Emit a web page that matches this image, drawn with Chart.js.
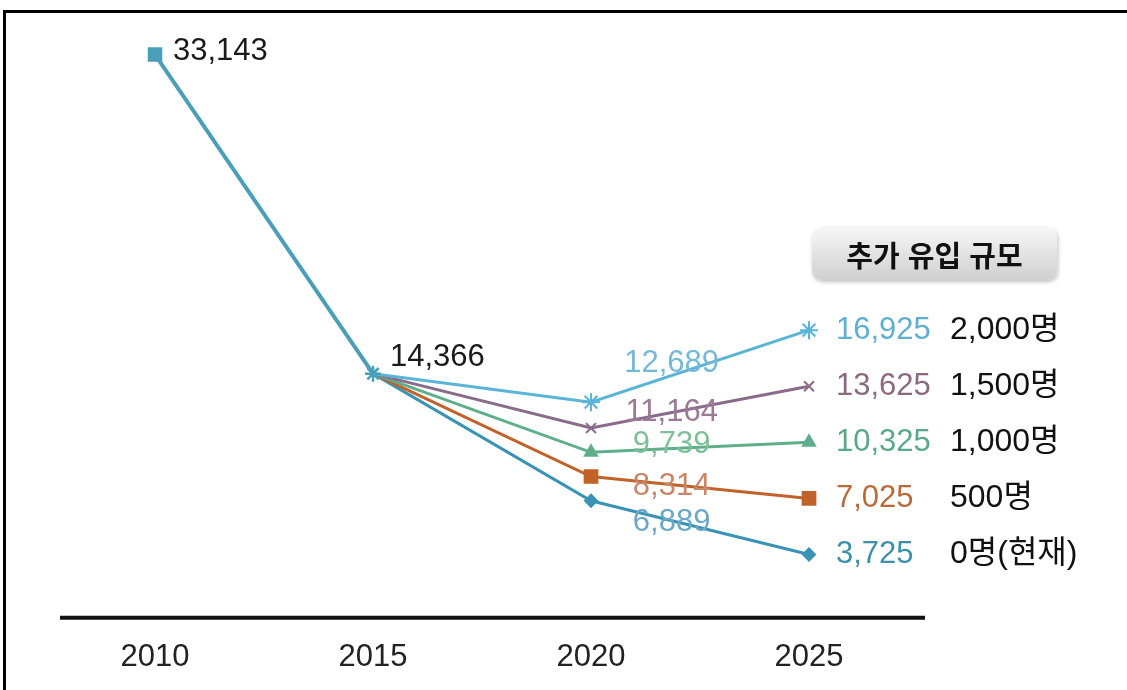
<!DOCTYPE html>
<html lang="ko">
<head>
<meta charset="utf-8">
<script src="https://cdn.jsdelivr.net/npm/chart.js@4.4.1/dist/chart.umd.min.js"></script>
<style>
  html, body { margin: 0; padding: 0; background: #fff; }
  #wrap { position: relative; width: 1127px; height: 690px; overflow: hidden; }
  #frame { position: absolute; left: 3px; top: 10px; right: 0; bottom: 0;
    border-top: 3px solid #000; border-left: 3px solid #000; }
  #chart { position: absolute; left: 0; top: 0; }
  #legendBox { position: absolute; left: 812px; top: 227px; width: 245px; height: 53px;
    border-radius: 10px; background: linear-gradient(#f7f7f7, #cfcfcf);
    box-shadow: 1px 2px 4px rgba(0,0,0,0.25);
    font: bold 29px 'Noto Sans CJK KR', sans-serif; color: #111;
    display: flex; align-items: center; justify-content: center; }
</style>
</head>
<body>
<div id="wrap">
  <div id="frame"></div>
  <canvas id="chart" width="1127" height="697"></canvas>
  <div id="legendBox">추가 유입 규모</div>
</div>
<script>
const years = ['2010', '2015', '2020', '2025'];
const scenarios = ['2,000명', '1,500명', '1,000명', '500명', '0명(현재)'];
const history = [33143, 14366];
const values2020 = [12689, 11164, 9739, 8314, 6889];
const values2025 = [16925, 13625, 10325, 7025, 3725];

// styling per scenario (same order as scenarios)
const lineColors = ['#5ab4d6', '#8b6b8a', '#5fae8a', '#c0622a', '#3a93b5'];
const midLabelColors = ['#74b9d6', '#9a7a94', '#7fbf98', '#c9876a', '#6aa8c8'];
const endLabelColors = ['#5fb0d0', '#8a6a7e', '#5aa888', '#b86a3a', '#3e90aa'];
const markers = ['star', 'crossRot', 'triangle', 'rect', 'rectRot'];
const markerSizes = [9, 7, 7, 9, 6];
const midLabelShift = [-12, 0, -4, 2, 2];

const FONT = "'Liberation Sans', Arial, 'Noto Sans CJK KR', sans-serif";
const fmt = v => v.toLocaleString('en-US');

const datasets = [{
  label: 'history',
  data: [history[0], history[1], null, null],
  borderColor: '#4a9fb8',
  backgroundColor: '#4a9fb8',
  borderWidth: 4,
  pointStyle: ['rect', 'star', 'rect', 'rect'],
  pointRadius: [8.5, 8, 0, 0],
  pointBorderWidth: 2.5,
  tension: 0
}];

scenarios.forEach((name, i) => {
  datasets.push({
    label: name,
    data: [null, history[1], values2020[i], values2025[i]],
    borderColor: lineColors[i],
    backgroundColor: lineColors[i],
    borderWidth: 3,
    pointStyle: markers[i],
    pointRadius: [0, 0, markerSizes[i], markerSizes[i]],
    pointBorderWidth: 2,
    tension: 0
  });
});

// baseline sits a little right of the plot area, as in the original
const baseline = {
  id: 'baseline',
  beforeDatasetsDraw(chart) {
    const { ctx, chartArea: a } = chart;
    ctx.save();
    ctx.strokeStyle = '#111';
    ctx.lineWidth = 4;
    ctx.beginPath();
    ctx.moveTo(a.left + 14, a.bottom);
    ctx.lineTo(a.right + 7, a.bottom);
    ctx.stroke();
    ctx.restore();
  }
};

const valueLabels = {
  id: 'valueLabels',
  afterDatasetsDraw(chart) {
    const ctx = chart.ctx;
    const area = chart.chartArea;
    ctx.save();
    ctx.textBaseline = 'middle';
    ctx.font = '31px ' + FONT;

    const base = chart.getDatasetMeta(0).data;
    ctx.fillStyle = '#1a1a1a';
    ctx.textAlign = 'left';
    ctx.fillText(fmt(history[0]), base[0].x + 18, base[0].y - 3);
    ctx.fillText(fmt(history[1]), base[1].x + 17, base[1].y - 16);

    scenarios.forEach((name, i) => {
      const pts = chart.getDatasetMeta(i + 1).data;
      const a = pts[2], b = pts[3];
      const t = 0.37;
      ctx.font = '31px ' + FONT;
      ctx.textAlign = 'center';
      ctx.fillStyle = midLabelColors[i];
      ctx.fillText(fmt(values2020[i]), a.x + (b.x - a.x) * t, a.y + (b.y - a.y) * t + midLabelShift[i]);

      ctx.textAlign = 'left';
      ctx.fillStyle = endLabelColors[i];
      ctx.fillText(fmt(values2025[i]), b.x + 27, b.y);

      ctx.font = '32px ' + FONT;
      ctx.fillStyle = '#111';
      ctx.fillText(name, area.right + 32, b.y);
    });
    ctx.restore();
  }
};

new Chart(document.getElementById('chart'), {
  type: 'line',
  data: { labels: years, datasets: datasets },
  options: {
    responsive: false,
    animation: false,
    spanGaps: false,
    clip: false,
    layout: { padding: { left: 46, right: 209, top: 23, bottom: 0 } },
    plugins: { legend: { display: false }, tooltip: { enabled: false } },
    scales: {
      x: {
        offset: true,
        grid: { display: false, drawTicks: false },
        border: { display: false },
        ticks: { color: '#222', padding: 21, font: { family: FONT, size: 31 } }
      },
      y: {
        display: false,
        min: 0,
        max: 35000
      }
    }
  },
  plugins: [baseline, valueLabels]
});
</script>
</body>
</html>
